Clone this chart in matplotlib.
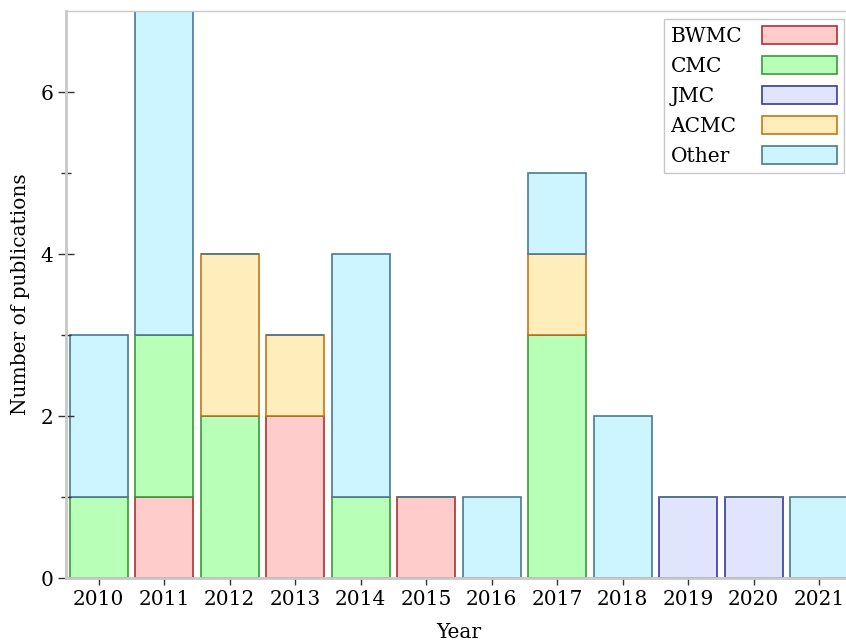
import numpy as np
import matplotlib.pyplot as plt
from matplotlib.ticker import MultipleLocator, FixedLocator

plt.rcParams['font.family'] = 'DejaVu Serif'

# data to plot
years = [2010, 2011, 2012, 2013, 2014, 2015, 2016, 2017, 2018, 2019, 2020, 2021]
series = ['BWMC', 'CMC', 'JMC', 'ACMC', 'Other']
bwmc = [0, 1, 0, 2, 0, 1, 0, 0, 0, 0, 0, 0]
cmc = [1, 2, 2, 0, 1, 0, 0, 3, 0, 0, 0, 0]
jmc = [0, 0, 0, 0, 0, 0, 0, 0, 0, 1, 1, 0]
acmc = [0, 0, 2, 1, 0, 0, 0, 1, 0, 0, 0, 0]
other = [2, 4, 0, 0, 3, 0, 1, 1, 2, 0, 0, 1]

faces = ['#ffcccc', '#b8ffb8', '#e0e4fc', '#ffedbb', '#ccf5ff']
edges = ['#b03030', '#3a9a3a', '#3a3a9a', '#c07818', '#4a7a90']

fig = plt.figure(figsize=(8.46, 6.42), dpi=100)
# axes runs a little past the right edge of the figure, as in the original
ax = fig.add_axes([66/846, 1-578/642, 786/846, 567/642])

bottom = np.zeros(len(years))
for name, vals, fc, ec in zip(series, [bwmc, cmc, jmc, acmc, other], faces, edges):
    ax.bar(years, vals, width=0.885, bottom=bottom, color=fc, edgecolor=ec,
           linewidth=1.2, label=name)
    bottom += np.array(vals)

ax.set_xlim(2009.5, 2021.5)
ax.set_ylim(0, 7)
ax.set_xticks(years)
ax.yaxis.set_major_locator(MultipleLocator(2))
ax.yaxis.set_minor_locator(FixedLocator([1, 3, 5]))

for s in ['left', 'bottom']:
    ax.spines[s].set_color('#c8c8c8')
    ax.spines[s].set_linewidth(2)
ax.spines['top'].set_color('#c8c8c8')
ax.spines['top'].set_linewidth(1)
ax.spines['right'].set_visible(False)

ax.tick_params(axis='y', which='major', direction='inout', length=11, width=1,
               color='#333333', labelsize=14.5)
ax.tick_params(axis='y', which='minor', direction='inout', length=7, width=1,
               color='#333333')
ax.tick_params(axis='x', direction='out', length=5, width=1, color='#333333',
               labelsize=14.5)

ax.set_ylabel('Number of publications', fontsize=14.5, labelpad=8)
ax.set_xlabel('Year', fontsize=14.5, labelpad=10)

leg = ax.legend(loc='upper right', markerfirst=False, fontsize=14.5,
                handlelength=3.7, handleheight=1.0, labelspacing=0.5,
                fancybox=False, edgecolor='#bbbbbb', borderaxespad=0.4,
                handletextpad=1.0, borderpad=0.35)
leg.get_frame().set_linewidth(1)

# left-align the labels while keeping the patches in one column on the right
fig.canvas.draw()
r = fig.canvas.get_renderer()
ws = [t.get_window_extent(r).width for t in leg.texts]
mw = max(ws)
col = leg._legend_handle_box.get_children()[0]
for row, w in zip(col.get_children(), ws):
    row.sep += (mw - w) * 72 / fig.dpi

fig.savefig('out.png', dpi=100)
